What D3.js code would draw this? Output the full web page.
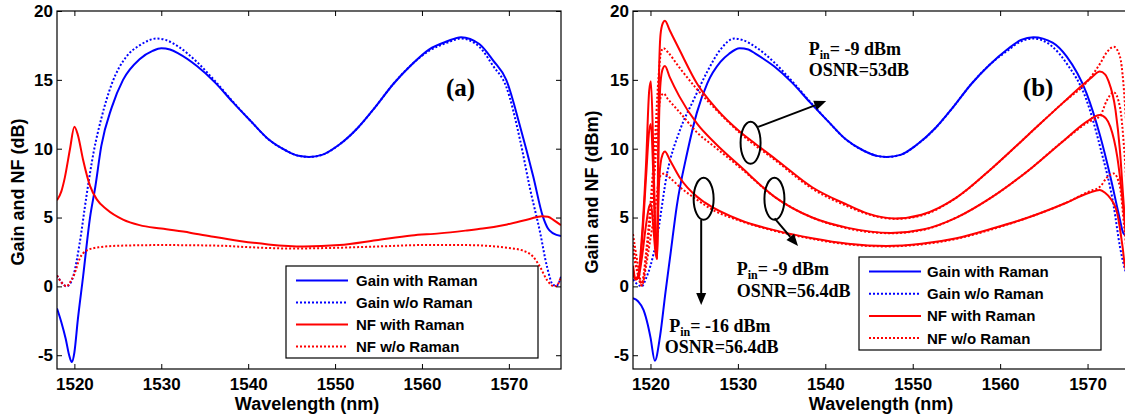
<!DOCTYPE html>
<html><head><meta charset="utf-8">
<script src="https://cdn.jsdelivr.net/npm/d3@7/dist/d3.min.js"></script>
<style>
body{margin:0;background:#fff;}
svg{display:block;background:#fff;}
</style></head><body>
<svg id="c" width="1125" height="419"></svg>
<script>
// ---------------- DATA ----------------
const xTicks = [1520, 1530, 1540, 1550, 1560, 1570];
const yTicks = [-5, 0, 5, 10, 15, 20];
const legendLabels = ["Gain with Raman", "Gain w/o Raman", "NF with Raman", "NF w/o Raman"];

// Panel (a)
const gainRamanA = [[1518.0,-1.6],[1518.5,-2.6],[1519.0,-3.8],[1519.4,-5.0],[1519.7,-5.5],[1520.0,-4.8],[1520.4,-2.4],[1521.0,0.7],[1521.8,5.0],[1522.4,7.2],[1523.1,10.2],[1524.3,13.0],[1525.6,15.0],[1527.5,16.5],[1529.0,17.1],[1530.0,17.3],[1531.0,17.2],[1532.0,16.9],[1534.1,16.0],[1536.2,14.8],[1538.2,13.4],[1540.3,12.0],[1542.3,10.7],[1544.4,9.85],[1545.8,9.48],[1547.0,9.4],[1548.5,9.55],[1550.5,10.3],[1552.6,11.5],[1554.6,13.0],[1556.7,14.7],[1558.8,16.1],[1560.8,17.2],[1562.9,17.8],[1564.5,18.1],[1566.6,17.6],[1568.2,16.4],[1569.7,15.0],[1571.3,11.6],[1572.8,8.0],[1573.9,5.1],[1574.5,4.2],[1575.1,3.85],[1576.0,3.66]];
const gainNoRamanA = [[1518.0,0.8],[1518.5,0.3],[1519.1,0.0],[1519.6,0.3],[1519.9,0.8],[1520.6,3.1],[1521.4,6.6],[1522.2,9.7],[1523.1,12.2],[1524.3,14.7],[1526.0,16.7],[1527.5,17.5],[1529.5,18.0],[1530.5,17.9],[1532.0,17.4],[1534.1,16.3],[1536.2,14.9],[1538.2,13.45],[1540.3,12.0],[1542.3,10.7],[1544.4,9.85],[1545.8,9.48],[1547.0,9.4],[1548.5,9.55],[1550.5,10.3],[1552.6,11.5],[1554.6,13.0],[1556.7,14.7],[1558.8,16.1],[1560.8,17.1],[1562.9,17.7],[1564.5,18.0],[1566.6,17.4],[1568.2,16.0],[1569.7,14.5],[1571.3,10.6],[1572.4,7.2],[1573.6,3.9],[1574.4,1.4],[1575.1,0.1],[1575.5,0.05],[1576.0,0.7]];
const nfRamanA = [[1518.0,6.25],[1518.5,6.9],[1518.9,7.9],[1519.5,10.0],[1520.0,11.6],[1520.4,11.0],[1521.0,9.2],[1521.8,7.3],[1522.6,6.3],[1523.7,5.6],[1525.6,4.85],[1527.5,4.45],[1530.0,4.2],[1533.3,3.9],[1536.0,3.6],[1539.0,3.3],[1542.3,3.05],[1546.4,2.9],[1550.5,3.0],[1554.7,3.35],[1558.8,3.7],[1562.0,3.85],[1565.0,4.05],[1567.0,4.2],[1569.8,4.5],[1572.4,4.9],[1573.8,5.1],[1574.5,5.05],[1575.2,4.8],[1576.0,4.45]];
const nfNoRamanA = [[1518.0,0.8],[1518.5,0.3],[1519.1,0.0],[1519.6,0.4],[1520.0,0.9],[1520.6,2.0],[1521.4,2.6],[1522.9,2.85],[1525.0,2.95],[1530.0,3.0],[1537.0,2.95],[1540.0,2.85],[1545.0,2.75],[1550.0,2.8],[1555.0,2.9],[1560.0,3.0],[1565.0,3.0],[1569.9,2.8],[1571.6,2.6],[1572.8,2.15],[1573.6,1.4],[1574.4,0.45],[1575.2,0.0],[1575.5,0.05],[1576.0,0.7]];

// Panel (b)
const gainRamanB = [[1518.0,-0.86],[1518.6,-1.1],[1519.2,-1.7],[1519.7,-2.8],[1520.0,-3.7],[1520.5,-5.4],[1521.1,-3.6],[1521.7,-0.5],[1522.3,2.4],[1523.0,5.8],[1524.2,9.7],[1525.3,12.6],[1526.5,14.75],[1528.0,16.3],[1529.0,16.9],[1530.2,17.3],[1531.2,17.2],[1532.0,16.9],[1534.1,16.0],[1536.2,14.8],[1538.2,13.4],[1540.3,12.0],[1542.3,10.7],[1544.4,9.85],[1545.9,9.48],[1547.0,9.4],[1548.6,9.55],[1550.5,10.3],[1552.6,11.5],[1554.6,13.0],[1556.7,14.7],[1558.8,16.1],[1560.8,17.2],[1562.4,17.9],[1563.8,18.1],[1566.0,17.7],[1567.6,16.7],[1569.9,14.0],[1571.45,10.9],[1572.6,8.0],[1573.55,5.3],[1574.1,3.86],[1574.6,3.6],[1576.0,3.5]];
const gainNoRamanB = [[1518.0,0.5],[1518.6,0.1],[1519.0,0.0],[1519.5,0.6],[1520.0,1.5],[1520.7,3.4],[1521.9,8.2],[1523.4,11.4],[1524.9,13.5],[1526.5,15.6],[1528.0,17.2],[1529.6,18.0],[1530.5,17.9],[1532.0,17.4],[1534.1,16.3],[1536.2,14.9],[1538.2,13.45],[1540.3,12.0],[1542.3,10.7],[1544.4,9.85],[1545.9,9.48],[1547.0,9.4],[1548.6,9.55],[1550.5,10.3],[1552.6,11.5],[1554.6,13.0],[1556.7,14.7],[1558.8,16.1],[1560.8,17.1],[1562.4,17.8],[1563.8,18.0],[1566.0,17.4],[1567.6,16.2],[1569.9,13.5],[1571.45,10.1],[1573.0,5.8],[1573.7,2.9],[1574.3,1.2],[1574.8,0.3],[1576.0,0.2]];
const nfRamanB_m9_53 = [[1518.0,1.5],[1518.3,0.6],[1518.6,0.8],[1519.0,3.5],[1519.5,9.0],[1519.85,14.2],[1520.05,14.9],[1520.3,10.5],[1520.55,4.0],[1520.75,2.0],[1520.85,8.0],[1520.95,14.5],[1521.15,18.3],[1521.4,19.1],[1521.65,19.3],[1522.2,18.6],[1523.3,17.2],[1525.35,14.7],[1527.4,13.0],[1530.3,11.2],[1531.5,10.6],[1534.4,9.2],[1538.5,7.2],[1542.6,5.9],[1544.8,5.3],[1548.0,4.93],[1551.0,5.2],[1555.0,6.45],[1559.1,8.6],[1563.2,11.0],[1567.3,13.4],[1569.4,14.6],[1570.5,15.2],[1571.4,15.6],[1572.0,15.4],[1572.4,14.9],[1573.2,12.8],[1573.7,9.9],[1574.1,6.3],[1574.5,3.0],[1575.0,1.0],[1576.0,0.5]];
const nfRamanB_m9_56 = [[1518.0,1.2],[1518.3,0.5],[1518.6,0.7],[1519.0,3.0],[1519.5,8.0],[1519.85,11.3],[1520.05,11.8],[1520.3,8.5],[1520.55,3.5],[1520.75,2.0],[1520.85,6.0],[1520.95,11.0],[1521.15,14.8],[1521.4,15.8],[1521.65,16.0],[1522.2,15.2],[1523.3,13.8],[1525.35,11.8],[1527.4,10.4],[1530.3,8.7],[1534.2,6.5],[1538.5,5.0],[1542.6,4.25],[1547.5,3.88],[1551.3,4.15],[1555.0,5.0],[1559.1,6.5],[1563.2,8.4],[1567.3,10.6],[1570.0,12.0],[1571.4,12.45],[1572.1,12.2],[1572.6,11.6],[1573.4,9.4],[1574.0,6.3],[1574.4,3.7],[1575.0,1.2],[1576.0,0.5]];
const nfRamanB_m16 = [[1518.0,0.9],[1518.3,0.5],[1518.6,0.6],[1519.0,2.0],[1519.5,4.5],[1519.85,5.8],[1520.05,6.0],[1520.3,4.5],[1520.55,2.6],[1520.75,2.0],[1520.85,4.5],[1520.95,7.0],[1521.15,8.9],[1521.4,9.6],[1521.65,9.8],[1522.2,9.2],[1523.3,7.95],[1525.35,6.5],[1526.2,6.1],[1530.3,4.8],[1534.4,4.05],[1538.5,3.5],[1542.6,3.1],[1547.0,2.94],[1551.0,3.1],[1555.0,3.5],[1559.1,4.2],[1563.2,5.0],[1567.3,6.0],[1570.2,6.8],[1571.4,7.0],[1572.0,6.8],[1572.6,6.4],[1573.4,5.3],[1574.0,2.9],[1574.3,1.4],[1575.0,0.5],[1576.0,0.3]];
const nfNoRamanB_m9_53 = [[1518.0,3.8],[1518.5,1.8],[1519.0,0.2],[1519.5,2.5],[1520.0,6.0],[1520.5,10.5],[1520.9,15.0],[1521.2,17.0],[1521.5,17.3],[1522.0,17.0],[1523.3,15.9],[1525.35,14.3],[1527.4,12.9],[1530.3,11.1],[1534.4,9.1],[1538.5,7.1],[1542.6,5.8],[1544.8,5.25],[1548.0,4.9],[1551.0,5.15],[1555.0,6.45],[1559.1,8.6],[1563.2,11.0],[1567.3,13.4],[1570.0,14.9],[1571.45,16.2],[1572.2,17.0],[1573.0,17.4],[1573.7,16.7],[1574.1,14.75],[1574.4,12.0],[1575.0,6.0],[1576.0,2.0]];
const nfNoRamanB_m9_56 = [[1518.0,3.0],[1518.5,1.2],[1519.0,0.1],[1519.5,2.0],[1520.0,5.0],[1520.5,8.5],[1520.9,12.5],[1521.2,13.8],[1521.5,14.0],[1522.0,13.6],[1523.4,12.6],[1525.3,11.2],[1527.4,10.1],[1530.3,8.6],[1534.2,6.5],[1538.5,5.0],[1542.6,4.2],[1547.5,3.86],[1551.3,4.12],[1555.0,5.0],[1559.1,6.5],[1563.2,8.4],[1567.3,10.6],[1570.0,11.9],[1571.45,12.4],[1572.2,13.5],[1573.0,14.1],[1573.7,13.05],[1574.2,9.9],[1574.6,6.0],[1576.0,1.0]];
const nfNoRamanB_m16 = [[1518.0,2.4],[1518.5,1.0],[1519.0,0.05],[1519.5,1.5],[1520.0,3.5],[1520.5,5.5],[1520.9,7.5],[1521.2,8.1],[1521.6,8.2],[1522.2,7.9],[1523.4,7.2],[1525.3,6.3],[1527.0,5.6],[1530.3,4.75],[1534.4,4.0],[1538.5,3.45],[1542.6,3.05],[1547.0,2.9],[1551.0,3.05],[1555.0,3.45],[1559.1,4.15],[1563.2,5.0],[1567.3,6.0],[1570.2,6.9],[1571.45,7.25],[1572.2,7.9],[1573.0,8.2],[1573.7,7.25],[1574.2,4.3],[1574.6,2.0],[1576.0,0.5]];

// Annotation texts (panel b) and anchors in data units (wavelength nm, dB)
const annoTexts = [
  {lines:[["P","in","= -9 dBm"],["OSNR=53dB"]], at:[[1538.1,16.8],[1538.1,15.28]]},
  {lines:[["P","in","= -9 dBm"],["OSNR=56.4dB"]], at:[[1529.87,0.83],[1529.87,-0.77]]},
  {lines:[["P","in","= -16 dBm"],["OSNR=56.4dB"]], at:[[1522.14,-3.31],[1521.62,-4.87]]}
];
const annoEllipses = [[1531.45,10.43],[1534.18,6.36],[1526.08,6.36]];
const annoArrows = [
  [[1532.32,11.58],[1540.1,13.46]],
  [[1534.2,4.94],[1536.88,2.93]],
  [[1525.8,4.82],[1525.8,-1.35]]
];

// ---------------- DRAW ----------------
const svg = d3.select("#c");
const SANS = '"Liberation Sans", Arial, Helvetica, sans-serif';
const SERIF = '"Liberation Serif", "Times New Roman", serif';
const TOP = 11, BOTTOM = 369;
const defs = svg.append("defs");

function panel(cfg) {
  const g = svg.append("g");
  const x = d3.scaleLinear().domain([1518, 1576]).range([cfg.x0, cfg.x1]);
  const y = d3.scaleLinear().domain([-6, 20]).range([BOTTOM, TOP]);
  const clipId = "clip" + cfg.id;
  defs.append("clipPath").attr("id", clipId).append("rect")
    .attr("x", cfg.x0).attr("y", TOP).attr("width", cfg.x1 - cfg.x0).attr("height", BOTTOM - TOP);

  const line = d3.line().x(d => x(d[0])).y(d => y(d[1])).curve(d3.curveMonotoneX);
  const cg = g.append("g").attr("clip-path", `url(#${clipId})`);
  cfg.series.forEach(s => {
    cg.append("path").attr("d", line(s.data)).attr("fill", "none")
      .attr("stroke", s.color).attr("stroke-width", 2)
      .attr("stroke-dasharray", s.dotted ? "2,2" : null)
      .attr("stroke-linejoin", "round");
  });

  // legend
  const L = cfg.legend;
  const lg = g.append("g");
  lg.append("rect").attr("x", L.x).attr("y", L.y).attr("width", L.w).attr("height", L.h)
    .attr("fill", "#fff").attr("stroke", "#000").attr("stroke-width", 1.2);
  legendLabels.forEach((lab, i) => {
    const s = cfg.series[i];
    const cy = L.row0 + i * L.step;
    lg.append("line").attr("x1", L.lx0).attr("x2", L.lx1).attr("y1", cy).attr("y2", cy)
      .attr("stroke", s.color).attr("stroke-width", 2)
      .attr("stroke-dasharray", s.dotted ? "2,2" : null);
    lg.append("text").attr("x", L.tx).attr("y", cy + 5.5).text(lab)
      .attr("font-family", SANS).attr("font-weight", "bold").attr("font-size", 15).attr("fill", "#000");
  });

  // axes
  const styleAxis = sel => {
    sel.select(".domain").remove();
    sel.selectAll("line").attr("stroke", "#000").attr("stroke-width", 1);
    sel.selectAll("text").attr("font-family", SANS).attr("font-weight", "bold").attr("font-size", 17).attr("fill", "#000");
  };
  g.append("g").attr("transform", `translate(0,${BOTTOM})`)
    .call(d3.axisBottom(x).tickValues(xTicks).tickSize(-5).tickPadding(9).tickFormat(d3.format("d"))).call(styleAxis);
  g.append("g").attr("transform", `translate(0,${TOP})`)
    .call(d3.axisTop(x).tickValues(xTicks).tickSize(-5).tickFormat("")).call(styleAxis);
  g.append("g").attr("transform", `translate(${cfg.x0},0)`)
    .call(d3.axisLeft(y).tickValues(yTicks).tickSize(-5).tickPadding(4).tickFormat(d => d < 0 ? "-" + Math.abs(d) : String(d))).call(styleAxis);
  g.append("g").attr("transform", `translate(${cfg.x1},0)`)
    .call(d3.axisRight(y).tickValues(yTicks).tickSize(-5).tickFormat("")).call(styleAxis);
  g.append("rect").attr("x", cfg.x0).attr("y", TOP).attr("width", cfg.x1 - cfg.x0).attr("height", BOTTOM - TOP)
    .attr("fill", "none").attr("stroke", "#000").attr("stroke-width", 1.2);

  // titles
  g.append("text").attr("x", cfg.xTitleX).attr("y", 410).attr("text-anchor", "middle").text("Wavelength (nm)")
    .attr("font-family", SANS).attr("font-weight", "bold").attr("font-size", 18).attr("fill", "#000");
  g.append("text").attr("transform", `translate(${cfg.yTitleX},192) rotate(-90)`).attr("text-anchor", "middle")
    .text(cfg.yTitle).attr("font-family", SANS).attr("font-weight", "bold").attr("font-size", 18).attr("fill", "#000");

  // panel tag
  g.append("text").attr("x", x(cfg.tag[1])).attr("y", y(cfg.tag[2])).text(cfg.tag[0])
    .attr("font-family", SERIF).attr("font-weight", "bold").attr("font-size", 25).attr("fill", "#000");
  return {x, y, g};
}

panel({
  id: "a", x0: 57, x1: 561, xTitleX: 307, yTitleX: 24, yTitle: "Gain and NF (dB)",
  tag: ["(a)", 1562.76, 13.8],
  series: [
    {data: gainRamanA, color: "#0000ff", dotted: false},
    {data: gainNoRamanA, color: "#0000ff", dotted: true},
    {data: nfRamanA, color: "#ff0000", dotted: false},
    {data: nfNoRamanA, color: "#ff0000", dotted: true}
  ],
  legend: {x: 286, y: 266, w: 252, h: 92, lx0: 296, lx1: 348, tx: 356, row0: 280.5, step: 22}
});

const pb = panel({
  id: "b", x0: 633, x1: 1140, xTitleX: 881, yTitleX: 598, yTitle: "Gain and NF (dBm)",
  tag: ["(b)", 1562.6, 13.8],
  series: [
    {data: gainRamanB, color: "#0000ff", dotted: false},
    {data: gainNoRamanB, color: "#0000ff", dotted: true},
    {data: nfRamanB_m9_53, color: "#ff0000", dotted: false},
    {data: nfNoRamanB_m9_53, color: "#ff0000", dotted: true},
    {data: nfRamanB_m9_56, color: "#ff0000", dotted: false},
    {data: nfNoRamanB_m9_56, color: "#ff0000", dotted: true},
    {data: nfRamanB_m16, color: "#ff0000", dotted: false},
    {data: nfNoRamanB_m16, color: "#ff0000", dotted: true}
  ],
  legend: {x: 859, y: 257, w: 242, h: 93, lx0: 869, lx1: 921, tx: 927, row0: 271.5, step: 22.2}
});

// annotations in panel b
const ag = pb.g.append("g");
annoEllipses.forEach(e => {
  ag.append("ellipse").attr("cx", pb.x(e[0])).attr("cy", pb.y(e[1])).attr("rx", 10).attr("ry", 21)
    .attr("fill", "none").attr("stroke", "#000").attr("stroke-width", 2);
});
annoArrows.forEach(a => {
  const x1 = pb.x(a[0][0]), y1 = pb.y(a[0][1]), x2 = pb.x(a[1][0]), y2 = pb.y(a[1][1]);
  const ang = Math.atan2(y2 - y1, x2 - x1), hl = 12, hw = 5;
  const bx = x2 - hl * Math.cos(ang), by = y2 - hl * Math.sin(ang);
  ag.append("line").attr("x1", x1).attr("y1", y1).attr("x2", bx).attr("y2", by)
    .attr("stroke", "#000").attr("stroke-width", 2);
  const px = -Math.sin(ang), py = Math.cos(ang);
  ag.append("path").attr("d", `M${x2},${y2}L${bx + hw * px},${by + hw * py}L${bx - hw * px},${by - hw * py}Z`).attr("fill", "#000");
});
annoTexts.forEach(t => {
  t.lines.forEach((ln, i) => {
    const tx = ag.append("text").attr("x", pb.x(t.at[i][0])).attr("y", pb.y(t.at[i][1]))
      .attr("font-family", SERIF).attr("font-weight", "bold").attr("font-size", 18).attr("fill", "#000");
    if (ln.length === 3) {
      tx.append("tspan").text(ln[0]);
      tx.append("tspan").text(ln[1]).attr("font-size", 12).attr("dy", 4);
      tx.append("tspan").text(ln[2]).attr("dy", -4);
    } else {
      tx.text(ln[0]);
    }
  });
});
</script>
</body></html>
